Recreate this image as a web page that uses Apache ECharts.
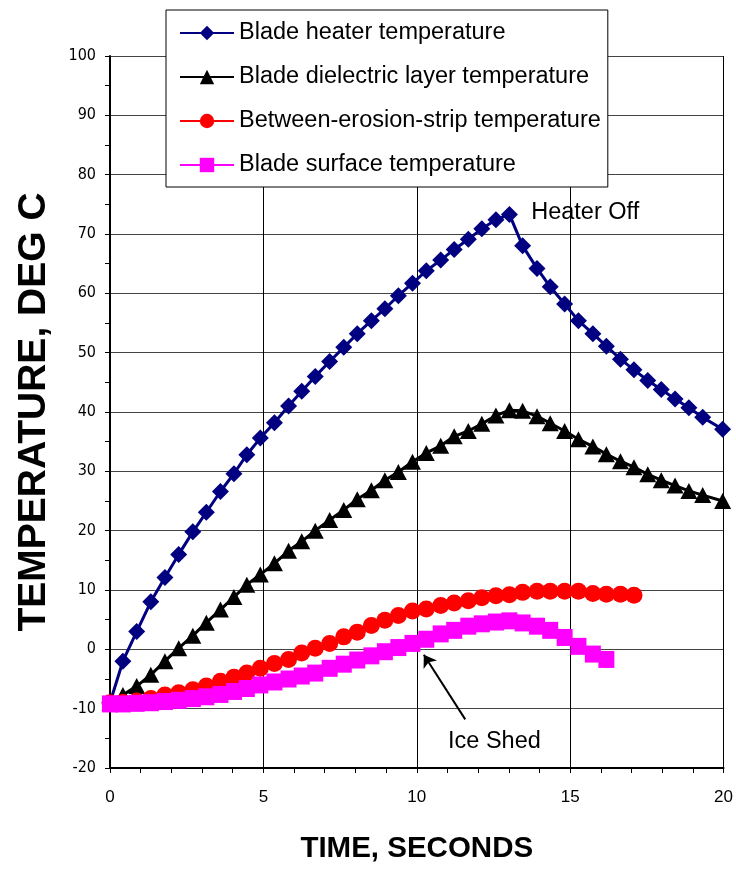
<!DOCTYPE html>
<html>
<head>
<meta charset="utf-8">
<script src="https://cdn.jsdelivr.net/npm/echarts@6/dist/echarts.min.js"></script>
<style>
  html, body { margin: 0; padding: 0; background: #fff; }
  #chart { width: 736px; height: 869px; }
</style>
</head>
<body>
<div id="chart"></div>
<script>
// sample times (s), shared by all four traces
var timeSec = [0, 0.42, 0.87, 1.33, 1.79, 2.24, 2.70, 3.14, 3.60, 4.04,
  4.46, 4.90, 5.36, 5.82, 6.25, 6.69, 7.16, 7.62, 8.06, 8.52,
  8.96, 9.40, 9.86, 10.31, 10.78, 11.22, 11.68, 12.12, 12.58, 13.02,
  13.45, 13.92, 14.35, 14.82, 15.27, 15.74, 16.18, 16.64, 17.08, 17.53,
  17.97, 18.42, 18.87, 19.32, 19.97];

var heaterTemp = [-9, -2.0, 3.0, 8.0, 12.1, 16.0, 19.8, 23.1, 26.6, 29.6,
  32.8, 35.6, 38.2, 41.0, 43.5, 46.0, 48.5, 50.9, 53.2, 55.4,
  57.4, 59.6, 61.7, 63.8, 65.6, 67.4, 69.1, 70.9, 72.4, 73.3,
  68.0, 64.2, 61.1, 58.2, 55.4, 53.2, 51.1, 48.9, 47.1, 45.3,
  43.8, 42.2, 40.7, 39.1, 37.1];

var dielectricTemp = [-9.0, -7.7, -6.2, -4.3, -2.0, 0.2, 2.3, 4.5, 6.7, 8.8,
  10.9, 12.6, 14.5, 16.6, 18.2, 20.0, 21.8, 23.5, 25.3, 26.8,
  28.5, 29.9, 31.6, 33.1, 34.3, 35.9, 36.8, 38.0, 39.4, 40.3,
  40.2, 39.3, 38.1, 36.8, 35.4, 34.2, 32.9, 31.7, 30.7, 29.5,
  28.5, 27.6, 26.7, 26.0, 25.0];

var erosionStripTemp = [-9.0, -8.9, -8.7, -8.3, -7.7, -7.3, -6.8, -6.2, -5.4, -4.7,
  -4.0, -3.2, -2.4, -1.7, -0.6, 0.2, 1.0, 2.1, 2.9, 4.0,
  4.9, 5.7, 6.45, 6.8, 7.4, 7.8, 8.2, 8.7, 9.05, 9.2,
  9.6, 9.8, 9.8, 9.8, 9.8, 9.4, 9.3, 9.3, 9.1];

var surfaceTemp = [-9.2, -9.2, -9.1, -9.0, -8.8, -8.6, -8.3, -8.0, -7.6, -7.1,
  -6.6, -6.0, -5.5, -5.0, -4.5, -4.0, -3.2, -2.5, -1.8, -1.1,
  -0.4, 0.3, 1.0, 1.7, 2.6, 3.2, 3.9, 4.3, 4.6, 4.8,
  4.45, 3.9, 3.2, 2.0, 0.5, -0.8, -1.7];

var seriesNames = ['Blade heater temperature', 'Blade dielectric layer temperature',
  'Between-erosion-strip temperature', 'Blade surface temperature'];

// annotation anchors in data units
var heaterOffAt = [13.73, 73.7];
var iceShedTextAt = [12.53, -15.6];
var iceShedArrow = [[11.58, -11.8], [10.23, -0.9]];

var FONT = 'Liberation Sans, Arial, sans-serif';
var NARROW = 'Liberation Sans Narrow, Arial Narrow, DejaVu Sans Condensed, Liberation Sans, sans-serif';

function pairs(vals) {
  return vals.map(function (v, i) { return [timeSec[i], v]; });
}

var chart = echarts.init(document.getElementById('chart'));

var option = {
  animation: false,
  backgroundColor: '#fff',
  textStyle: { fontFamily: FONT },
  grid: { left: 110, right: 10, top: 56, bottom: 93, containLabel: false },
  legend: {
    orient: 'vertical',
    left: 166,
    top: 10,
    padding: [10, 7, 9, 13],
    itemWidth: 54,
    itemHeight: 18,
    itemGap: 18,
    backgroundColor: '#fff',
    borderColor: '#000',
    borderWidth: 1,
    textStyle: { fontFamily: FONT, fontSize: 23.5, color: '#000', lineHeight: 26 },
    data: seriesNames
  },
  xAxis: {
    type: 'value',
    min: 0, max: 20, interval: 5,
    name: 'TIME, SECONDS',
    nameLocation: 'middle',
    nameGap: 66,
    nameTextStyle: { fontFamily: FONT, fontSize: 29.5, fontWeight: 'bold', color: '#000' },
    axisLine: { show: true, onZero: false, lineStyle: { color: '#000', width: 2 } },
    axisTick: { show: true, length: 5, lineStyle: { color: '#000', width: 1 } },
    minorTick: { show: true, splitNumber: 5, length: 5, lineStyle: { color: '#000', width: 1 } },
    axisLabel: { margin: 21, fontSize: 17, color: '#000', fontFamily: FONT },
    splitLine: { show: true, lineStyle: { color: '#000', width: 1 } }
  },
  yAxis: {
    type: 'value',
    min: -20, max: 100, interval: 10,
    name: 'TEMPERATURE, DEG C',
    nameLocation: 'middle',
    nameGap: 56,
    nameTextStyle: { fontFamily: FONT, fontSize: 39, fontWeight: 'bold', color: '#000' },
    axisLine: { show: true, onZero: false, lineStyle: { color: '#000', width: 2 } },
    axisTick: { show: true, length: 5, lineStyle: { color: '#000', width: 1 } },
    minorTick: { show: true, splitNumber: 2, length: 5, lineStyle: { color: '#000', width: 1 } },
    axisLabel: { margin: 14, fontSize: 16, color: '#000', fontFamily: NARROW },
    splitLine: { show: true, lineStyle: { color: '#444', width: 1 } }
  },
  series: [
    {
      name: seriesNames[0],
      type: 'line',
      data: pairs(heaterTemp),
      symbol: 'diamond',
      symbolSize: 17,
      showAllSymbol: true,
      itemStyle: { color: '#000080' },
      lineStyle: { color: '#000080', width: 3 },
      markPoint: {
        symbol: 'circle',
        symbolSize: 0,
        silent: true,
        data: [{
          coord: heaterOffAt,
          label: {
            show: true, formatter: 'Heater Off', position: 'right', distance: 0,
            color: '#000', fontSize: 23.5, fontFamily: FONT
          }
        }]
      }
    },
    {
      name: seriesNames[1],
      type: 'line',
      data: pairs(dielectricTemp),
      symbol: 'triangle',
      symbolSize: [17, 16],
      showAllSymbol: true,
      itemStyle: { color: '#000' },
      lineStyle: { color: '#000', width: 3 }
    },
    {
      name: seriesNames[2],
      type: 'line',
      data: pairs(erosionStripTemp),
      symbol: 'circle',
      symbolSize: 17,
      showAllSymbol: true,
      itemStyle: { color: '#ff0000' },
      lineStyle: { color: '#ff0000', width: 3 }
    },
    {
      name: seriesNames[3],
      type: 'line',
      data: pairs(surfaceTemp),
      symbol: 'rect',
      symbolSize: [16, 17],
      showAllSymbol: true,
      itemStyle: { color: '#ff00ff' },
      lineStyle: { color: '#ff00ff', width: 3 },
      markLine: {
        silent: true,
        symbol: ['none', 'arrow'],
        symbolSize: 12,
        label: { show: false },
        lineStyle: { color: '#000', width: 2, type: 'solid' },
        data: [[{ coord: iceShedArrow[0] }, { coord: iceShedArrow[1] }]]
      },
      markPoint: {
        symbol: 'circle',
        symbolSize: 0,
        silent: true,
        data: [{
          coord: iceShedTextAt,
          label: {
            show: true, formatter: 'Ice Shed', position: 'inside',
            color: '#000', fontSize: 23.5, fontFamily: FONT
          }
        }]
      }
    }
  ]
};

chart.setOption(option);
</script>
</body>
</html>
